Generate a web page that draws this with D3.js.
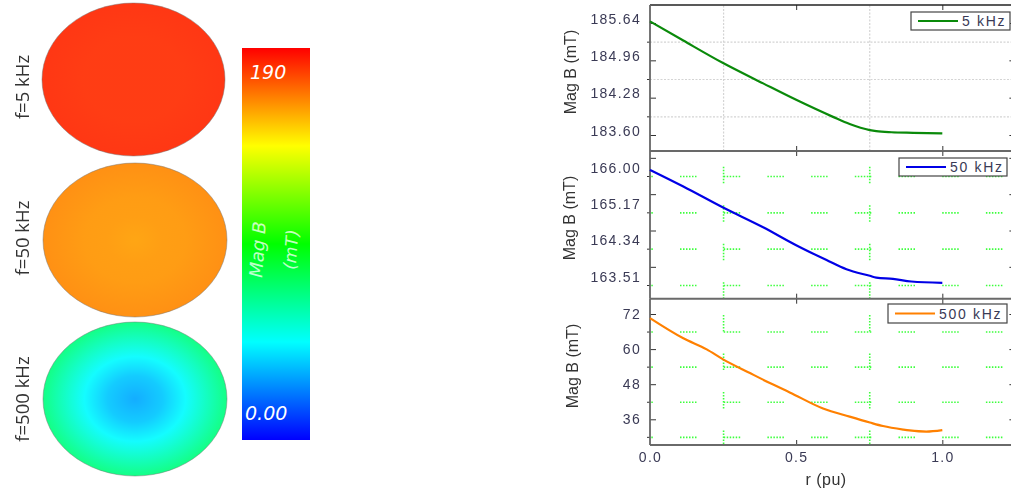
<!DOCTYPE html>
<html>
<head>
<meta charset="utf-8">
<script src="https://cdn.jsdelivr.net/npm/d3@7"></script>
<style>
  html, body { margin: 0; padding: 0; background: #fff; overflow: hidden; }
  svg { display: block; filter: blur(0.35px); }
  text { font-family: "Liberation Sans", sans-serif; }
  .tick text { fill: #3a3a55; font-size: 14px; letter-spacing: 1.3px; }
  .axis-title { fill: #333; font-size: 16px; }
  .side-label { fill: #333; font-family: "Open Sans", sans-serif; font-size: 18.5px; }
  .bar-text { fill: #fff; font-family: "DejaVu Sans", sans-serif; font-style: italic; }
</style>
</head>
<body>
<div id="chart"></div>
<script>
'use strict';

// line plots
var radius = [0, 0.114, 0.25, 0.387, 0.5, 0.626, 0.683, 0.752, 0.774, 0.826, 0.9, 1.0];
var mag5k = [185.67, 185.32, 184.91, 184.54, 184.24, 183.93, 183.8, 183.69, 183.67, 183.65, 183.64, 183.63];
var radius50k = [0, 0.114, 0.25, 0.387, 0.5, 0.604, 0.672, 0.752, 0.774, 0.831, 0.894, 1.0];
var mag50k = [166.14, 165.76, 165.28, 164.83, 164.42, 164.08, 163.87, 163.72, 163.68, 163.65, 163.59, 163.56];
var radius500k = [0, 0.114, 0.194, 0.25, 0.342, 0.41, 0.478, 0.592, 0.683, 0.752, 0.797, 0.866, 0.888, 0.945, 1.0];
var mag500k = [70.6, 63.7, 59.9, 56.5, 51.8, 48.4, 45.2, 39.7, 36.9, 34.9, 33.7, 32.5, 32.2, 31.8, 32.3];

var ticks5k = [183.6, 184.28, 184.96, 185.64];
var ticks50k = [163.51, 164.34, 165.17, 166.0];
var ticks500k = [36, 48, 60, 72];
var xTicks = [0, 0.5, 1.0];
var xMinor = [0.25, 0.75];

// discs: Mag B (mT) from centre to rim
var discStops = [0, 0.3, 0.55, 1];
var disc5k = [181.8, 181.8, 181.8, 183];
var disc50k = [160.6, 162, 162.4, 164.9];
var disc500k = [31, 37, 47, 72];
var discLabels = ['f=5 kHz', 'f=50 kHz', 'f=500 kHz'];

// colour bar
var barValues = [0, 47.5, 95, 142.5, 190];
var barColors = ['#0000ff', '#00ffff', '#00ff00', '#ffff00', '#ff0000'];

var width = 1011, height = 495;
var svg = d3.select('#chart').append('svg').attr('width', width).attr('height', height);
var defs = svg.append('defs');
var color = d3.scaleLinear().domain(barValues).range(barColors);

// left half
function drawDisc(id, values, label, cx, cy, rx, ry, labelY) {
  var grad = defs.append('radialGradient').attr('id', id);
  discStops.forEach(function (s, i) {
    grad.append('stop').attr('offset', s).attr('stop-color', color(values[i]));
  });
  svg.append('ellipse')
    .attr('cx', cx).attr('cy', cy).attr('rx', rx).attr('ry', ry)
    .attr('fill', 'url(#' + id + ')')
    .attr('fill-opacity', 0.92)
    .attr('stroke', '#777').attr('stroke-opacity', 0.6).attr('stroke-width', 0.8);
  svg.append('text')
    .attr('class', 'side-label')
    .attr('text-anchor', 'middle')
    .attr('transform', 'translate(29,' + labelY + ')rotate(-90)')
    .text(label);
}
drawDisc('disc-a', disc5k, discLabels[0], 133.5, 79.5, 91.5, 76.5, 87);
drawDisc('disc-b', disc50k, discLabels[1], 135, 240, 92, 77, 238);
drawDisc('disc-c', disc500k, discLabels[2], 135, 399, 92, 77, 399);

var barGrad = defs.append('linearGradient')
  .attr('id', 'bar-grad').attr('x1', 0).attr('x2', 0).attr('y1', 1).attr('y2', 0);
barValues.forEach(function (v) {
  barGrad.append('stop').attr('offset', v / 190).attr('stop-color', color(v));
});
svg.append('rect')
  .attr('x', 242).attr('y', 48).attr('width', 68).attr('height', 392)
  .attr('fill', 'url(#bar-grad)');
svg.append('text').attr('class', 'bar-text').attr('x', 250).attr('y', 79)
  .style('font-size', '19px').text('190');
svg.append('text').attr('class', 'bar-text').attr('x', 245).attr('y', 420)
  .style('font-size', '19px').text('0.00');
svg.append('text').attr('class', 'bar-text')
  .attr('text-anchor', 'middle')
  .attr('transform', 'translate(264,250)rotate(-86)')
  .attr('fill-opacity', 0.75)
  .style('font-size', '18px').text('Mag B');
svg.append('text').attr('class', 'bar-text')
  .attr('text-anchor', 'middle')
  .attr('transform', 'translate(297,250)rotate(-86)')
  .attr('fill-opacity', 0.75)
  .style('font-size', '17px').text('(mT)');

// right half
var x = d3.scaleLinear().domain([0, 1.25]).range([650, 1015.4]);

function dots(period) {
  return '1.5 1.5 1.5 1.5 1.5 1.5 1.5 1.5 1.5 1.5 1.5 ' + (period - 16.5);
}

function Panel(opts) {
  this.o = opts;
  this.y = d3.scaleLinear().domain(opts.domain).range(opts.range);
  this.draw();
}

Panel.prototype = {
  draw: function () {
    var o = this.o, y = this.y;
    var g = svg.append('g');

    // grid
    var gh = g.append('g').attr('transform', 'translate(650,0)')
      .call(d3.axisLeft(y).tickValues(o.gridValues).tickSize(-(x.range()[1] - 650)).tickFormat(''));
    gh.select('.domain').remove();
    gh.selectAll('line').attr('stroke', o.gridColor).attr('stroke-width', o.green ? 1.6 : 1.2)
      .attr('stroke-dasharray', o.green ? dots(43.7) : '2 1.5')
      .attr('stroke-dashoffset', o.green ? 13.7 : 0);

    var gv = g.append('g').attr('transform', 'translate(0,' + o.bottom + ')')
      .call(d3.axisBottom(x).tickValues(xMinor).tickSize(-(o.bottom - o.top)).tickFormat(''));
    gv.select('.domain').remove();
    gv.selectAll('line').attr('stroke', o.gridColor).attr('stroke-width', o.green ? 1.6 : 1.2)
      .attr('stroke-dasharray', o.green ? dots(38.5) : '2 1.5')
      .attr('stroke-dashoffset', o.green ? o.vOffset : 0);

    // small ticks
    [['left', 650, -3], ['right', 1015.4, 3]].forEach(function (s) {
      var axis = s[0] == 'left' ? d3.axisLeft(y) : d3.axisRight(y);
      var t = g.append('g').attr('transform', 'translate(' + s[1] + ',0)')
        .call(axis.tickValues(o.minorValues).tickSize(-s[2]).tickFormat(''));
      t.select('.domain').remove();
      t.selectAll('line').attr('stroke', '#333');
    });

    // long ticks, labelled only on the left where the panel says so
    var left = g.append('g').attr('transform', 'translate(650,0)')
      .call(d3.axisLeft(y).tickValues(o.longValues).tickSize(-6).tickFormat(''));
    left.select('.domain').remove();
    left.selectAll('line').attr('stroke', '#333');
    var right = g.append('g').attr('transform', 'translate(1015.4,0)')
      .call(d3.axisRight(y).tickValues(o.longValues).tickSize(-6).tickFormat(''));
    right.select('.domain').remove();
    right.selectAll('line').attr('stroke', '#333');

    var labels = g.append('g').attr('transform', 'translate(650,0)')
      .call(d3.axisLeft(y).tickValues(o.ticks).tickSize(0).tickPadding(9).tickFormat(d3.format(o.format)));
    labels.select('.domain').remove();
    labels.selectAll('text').attr('dy', o.labelShift + 5);

    // x ticks, top and bottom
    [[d3.axisBottom, o.top, 5], [d3.axisTop, o.bottom, 5]].forEach(function (s) {
      var t = g.append('g').attr('transform', 'translate(0,' + s[1] + ')')
        .call(s[0](x).tickValues(xTicks.slice(1)).tickSize(s[2]).tickFormat(''));
      t.select('.domain').remove();
      t.selectAll('line').attr('stroke', '#333');
    });

    // frame
    g.append('line').attr('x1', 650).attr('x2', 1011).attr('y1', o.top).attr('y2', o.top)
      .attr('stroke', o.topColor).attr('stroke-width', 1.6);
    g.append('line').attr('x1', 650).attr('x2', 1011).attr('y1', o.bottom).attr('y2', o.bottom)
      .attr('stroke', '#6a6a6a').attr('stroke-width', 1.8);
    g.append('line').attr('x1', 650).attr('x2', 650).attr('y1', o.top).attr('y2', o.bottom)
      .attr('stroke', '#666').attr('stroke-width', 1.8);

    // curve
    var line = d3.line()
      .x(function (d) { return x(d[0]); })
      .y(function (d) { return y(d[1]); })
      .curve(d3.curveMonotoneX);
    g.append('path')
      .datum(d3.zip(o.xs, o.values))
      .attr('d', line)
      .attr('fill', 'none')
      .attr('stroke', o.lineColor)
      .attr('stroke-width', 2.2);

    // axis title
    g.append('text')
      .attr('class', 'axis-title')
      .attr('text-anchor', 'middle')
      .attr('transform', 'translate(' + o.titleX + ',' + o.titleY + ')rotate(-90)')
      .text('Mag B (mT)');

    // legend
    var b = o.legend;
    g.append('rect').attr('x', b[0]).attr('y', o.legendY).attr('width', b[1] - b[0]).attr('height', o.legendH)
      .attr('fill', '#fff').attr('stroke', '#444').attr('stroke-width', 1.2);
    g.append('line').attr('x1', b[0] + 7).attr('x2', b[0] + 47)
      .attr('y1', o.legendY + o.legendH / 2).attr('y2', o.legendY + o.legendH / 2)
      .attr('stroke', o.lineColor).attr('stroke-width', 2);
    g.append('text').attr('x', b[0] + 51).attr('y', o.legendY + o.legendH / 2 + 5)
      .style('fill', '#3a3a55').style('font-size', '14px').style('letter-spacing', '1.7px')
      .text(o.name);
  }
};

new Panel({
  name: '5 kHz', xs: radius, values: mag5k, ticks: ticks5k, format: '.2f',
  domain: [183.6, 185.64], range: [135, 23],
  gridValues: [183.94, 184.62, 185.3], minorValues: [183.94, 184.62, 185.3],
  longValues: ticks5k,
  top: 5, bottom: 151, topColor: '#222', labelShift: -5,
  gridColor: '#d4d4d4', green: false, lineColor: '#0a8a0a',
  titleX: 576, titleY: 72, legend: [911, 1010], legendY: 12, legendH: 18
});

new Panel({
  name: '50 kHz', xs: radius50k, values: mag50k, ticks: ticks50k, format: '.2f',
  domain: [163.51, 166.0], range: [285, 176],
  gridValues: ticks50k, minorValues: ticks50k,
  longValues: [163.925, 164.755, 165.585, 166.415],
  top: 151, bottom: 298.7, topColor: '#6a6a6a', labelShift: -9,
  gridColor: '#3dff3d', green: true, vOffset: 0, lineColor: '#0000e6',
  titleX: 575, titleY: 218, legend: [899, 1007], legendY: 158, legendH: 18
});

new Panel({
  name: '500 kHz', xs: radius500k, values: mag500k, ticks: ticks500k, format: 'd',
  domain: [36, 72], range: [419.3, 314],
  gridValues: [30, 42, 54, 66], minorValues: [30, 42, 54, 66],
  longValues: ticks500k,
  top: 298.7, bottom: 445, topColor: '#6a6a6a', labelShift: -1,
  gridColor: '#3dff3d', green: true, vOffset: 2, lineColor: '#ff8000',
  titleX: 578, titleY: 366, legend: [888, 1007], legendY: 304, legendH: 19
});

// bottom x axis labels
var xLabels = svg.append('g').attr('transform', 'translate(0,445)')
  .call(d3.axisBottom(x).tickValues(xTicks).tickSize(0).tickPadding(7).tickFormat(d3.format('.1f')));
xLabels.select('.domain').remove();

svg.append('text')
  .attr('class', 'axis-title')
  .attr('text-anchor', 'middle')
  .attr('x', 826).attr('y', 485)
  .style('letter-spacing', '0.5px')
  .text('r (pu)');
</script>
</body>
</html>
